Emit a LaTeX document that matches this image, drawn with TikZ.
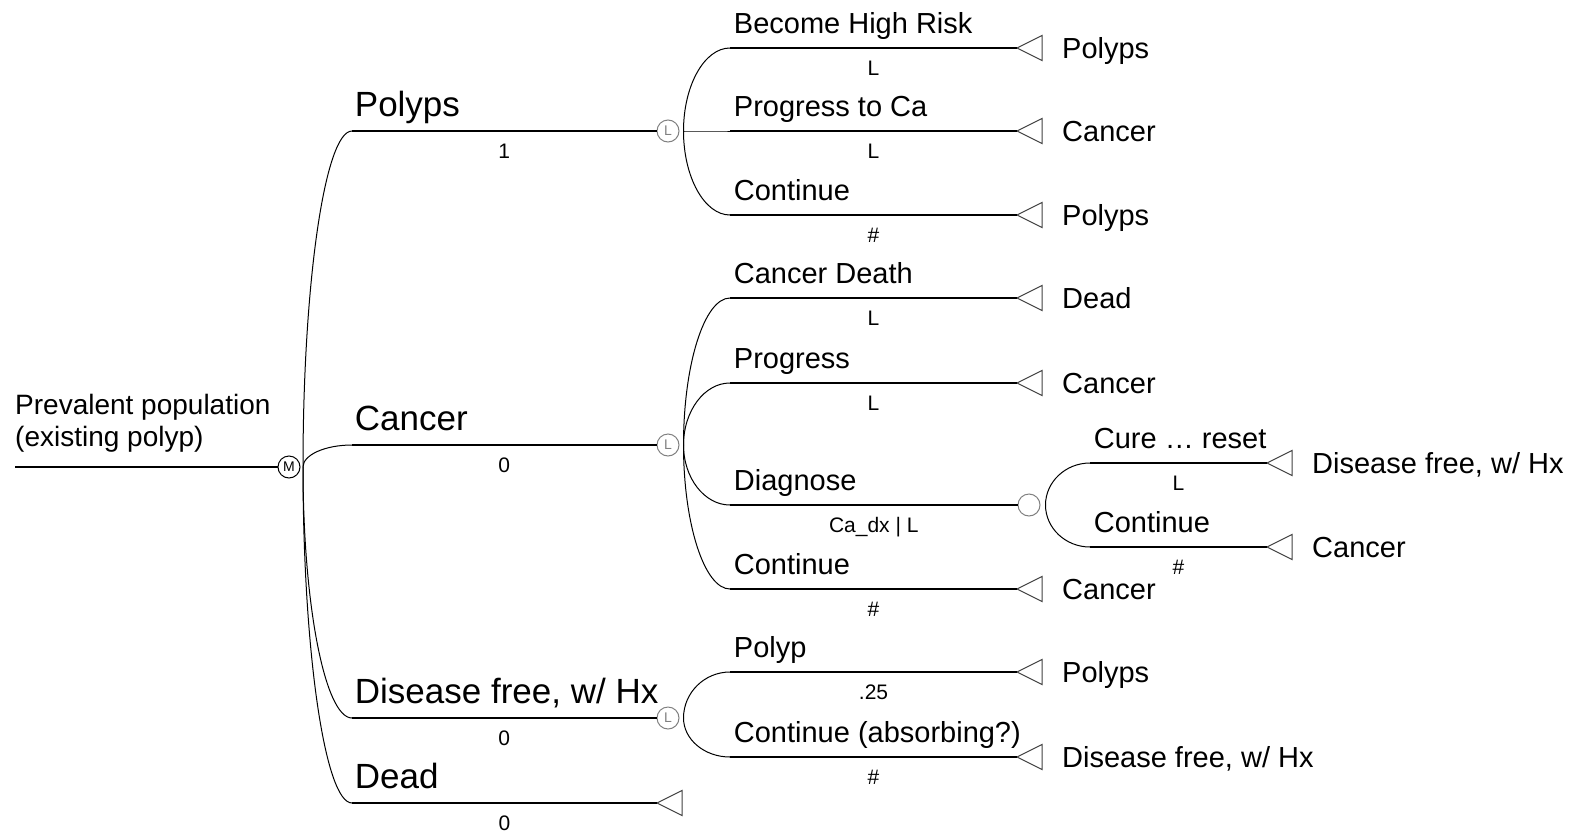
\documentclass[tikz,border=0pt]{standalone}
\usepackage{fontspec}
\setmainfont{Liberation Sans}
\usetikzlibrary{calc,positioning,shapes.geometric}
\tikzset{
    branch/.style = {draw, line width=1.8pt},
    twig/.style = {draw, line width=1pt},
    chance/.style = {circle, draw=gray, line width=1pt, minimum size=22pt, inner sep=0pt, text=gray, font=\fontsize{14}{14}\selectfont},
    markov/.style = {chance, draw=black, text=black},
    term/.style = {isosceles triangle, isosceles triangle stretches, shape border rotate=180, anchor=apex, draw=black!75, line width=1pt, minimum height=25pt, minimum width=25pt, inner sep=0pt, outer sep=0pt},
    big-lab/.style = {font=\fontsize{35}{35}\selectfont, inner sep=0pt, text depth=0pt, pos=0, above right=14pt and 2pt},
    mid-lab/.style = {font=\fontsize{29}{29}\selectfont, inner sep=0pt, text depth=0pt, pos=0, above right=14pt and 3pt},
    prob/.style = {font=\fontsize{21}{21}\selectfont, inner sep=0pt, text height=14pt, text depth=0pt, pos=0.5, below=13pt},
    end-lab/.style = {font=\fontsize{29}{29}\selectfont, inner sep=0pt, text height=21pt, text depth=0pt},
    root-lab/.style = {font=\fontsize{28}{32}\selectfont, inner sep=0pt, align=left, anchor=south west},
}
\newcommand{\twig}[2]{\draw[twig] let \p1=(#1), \p2=(#2) in (\p1) .. controls (\x1,{\y1+0.55*(\y2-\y1)}) and ({\x2-0.55*(\x2-\x1)},\y2) .. (\p2);}

\begin{document}
\begin{tikzpicture}[x=1pt, y=-1pt]
\useasboundingbox (0,0) rectangle (1573,835);

% root
\coordinate (root) at (15,467);
\node[markov] (m0) at (289,467) {M};
\coordinate (m0b) at (303,467);
\node[root-lab] (l-root) at (15,453) {Prevalent population\\(existing polyp)};
\draw[branch] (root) -- (m0);

% first level
\coordinate (b-pol) at (352,131);
\coordinate (b-can) at (352,445);
\coordinate (b-dfh) at (352,718);
\coordinate (b-dead) at (352,803);
\node[chance] (c-pol) at (668,131) {L};
\node[chance] (c-can) at (668,445) {L};
\node[chance] (c-dfh) at (668,718) {L};
\node[term] (t-dead) at (657,803) {};
\foreach \b in {pol,can,dfh,dead} \twig{m0b}{b-\b};
\draw[branch] (b-pol) -- node[big-lab] (l-pol) {Polyps} node[prob] (p-pol) {1} (c-pol);
\draw[branch] (b-can) -- node[big-lab] (l-can) {Cancer} node[prob] (p-can) {0} (c-can);
\draw[branch] (b-dfh) -- node[big-lab] (l-dfh) {Disease free, w/ Hx} node[prob] (p-dfh) {0} (c-dfh);
\draw[branch] (b-dead) -- node[big-lab] (l-dead) {Dead} node[prob] (p-dead) {0} (t-dead.apex);

% polyps
\coordinate (c-pol-b) at ($(c-pol.east)+(4,0)$);
\coordinate (b-hr) at (730,48);
\coordinate (b-pc) at (730,131);
\coordinate (b-pco) at (730,215);
\node[term] (t-hr) at (1017,48) {};
\node[term] (t-pc) at (1017,131) {};
\node[term] (t-pco) at (1017,215) {};
\node[end-lab, right=20pt of t-hr.lower side] (e-hr) {Polyps};
\node[end-lab, right=20pt of t-pc.lower side] (e-pc) {Cancer};
\node[end-lab, right=20pt of t-pco.lower side] (e-pco) {Polyps};
\foreach \b in {hr,pc,pco} \twig{c-pol-b}{b-\b};
\draw[branch] (b-hr) -- node[mid-lab] (l-hr) {Become High Risk} node[prob] (p-hr) {L} (t-hr.apex);
\draw[branch] (b-pc) -- node[mid-lab] (l-pc) {Progress to Ca} node[prob] (p-pc) {L} (t-pc.apex);
\draw[branch] (b-pco) -- node[mid-lab] (l-pco) {Continue} node[prob] (p-pco) {\#} (t-pco.apex);

% cancer
\coordinate (c-can-b) at ($(c-can.east)+(4,0)$);
\coordinate (b-cd) at (730,298);
\coordinate (b-pr) at (730,383);
\coordinate (b-dx) at (730,505);
\coordinate (b-cco) at (730,589);
\node[term] (t-cd) at (1017,298) {};
\node[term] (t-pr) at (1017,383) {};
\node[chance] (c-dx) at (1029,505) {};
\node[term] (t-cco) at (1017,589) {};
\node[end-lab, right=20pt of t-cd.lower side] (e-cd) {Dead};
\node[end-lab, right=20pt of t-pr.lower side] (e-pr) {Cancer};
\node[end-lab, right=20pt of t-cco.lower side] (e-cco) {Cancer};
\foreach \b in {cd,pr,dx,cco} \twig{c-can-b}{b-\b};
\draw[branch] (b-cd) -- node[mid-lab] (l-cd) {Cancer Death} node[prob] (p-cd) {L} (t-cd.apex);
\draw[branch] (b-pr) -- node[mid-lab] (l-pr) {Progress} node[prob] (p-pr) {L} (t-pr.apex);
\draw[branch] (b-dx) -- node[mid-lab] (l-dx) {Diagnose} node[prob] (p-dx) {Ca\_dx | L} (c-dx);
\draw[branch] (b-cco) -- node[mid-lab] (l-cco) {Continue} node[prob] (p-cco) {\#} (t-cco.apex);

% diagnose
\coordinate (c-dx-b) at ($(c-dx.east)+(5,0)$);
\coordinate (b-cr) at (1090,463);
\coordinate (b-dco) at (1090,547);
\node[term] (t-cr) at (1267,463) {};
\node[term] (t-dco) at (1267,547) {};
\node[end-lab, right=20pt of t-cr.lower side] (e-cr) {Disease free, w/ Hx};
\node[end-lab, right=20pt of t-dco.lower side] (e-dco) {Cancer};
\foreach \b in {cr,dco} \twig{c-dx-b}{b-\b};
\draw[branch] (b-cr) -- node[mid-lab] (l-cr) {Cure … reset} node[prob] (p-cr) {L} (t-cr.apex);
\draw[branch] (b-dco) -- node[mid-lab] (l-dco) {Continue} node[prob] (p-dco) {\#} (t-dco.apex);

% disease free
\coordinate (c-dfh-b) at ($(c-dfh.east)+(4,0)$);
\coordinate (b-py) at (730,672);
\coordinate (b-ab) at (730,757);
\node[term] (t-py) at (1017,672) {};
\node[term] (t-ab) at (1017,757) {};
\node[end-lab, right=20pt of t-py.lower side] (e-py) {Polyps};
\node[end-lab, right=20pt of t-ab.lower side] (e-ab) {Disease free, w/ Hx};
\foreach \b in {py,ab} \twig{c-dfh-b}{b-\b};
\draw[branch] (b-py) -- node[mid-lab] (l-py) {Polyp} node[prob] (p-py) {.25} (t-py.apex);
\draw[branch] (b-ab) -- node[mid-lab] (l-ab) {Continue (absorbing?)} node[prob] (p-ab) {\#} (t-ab.apex);
\end{tikzpicture}
\end{document}
